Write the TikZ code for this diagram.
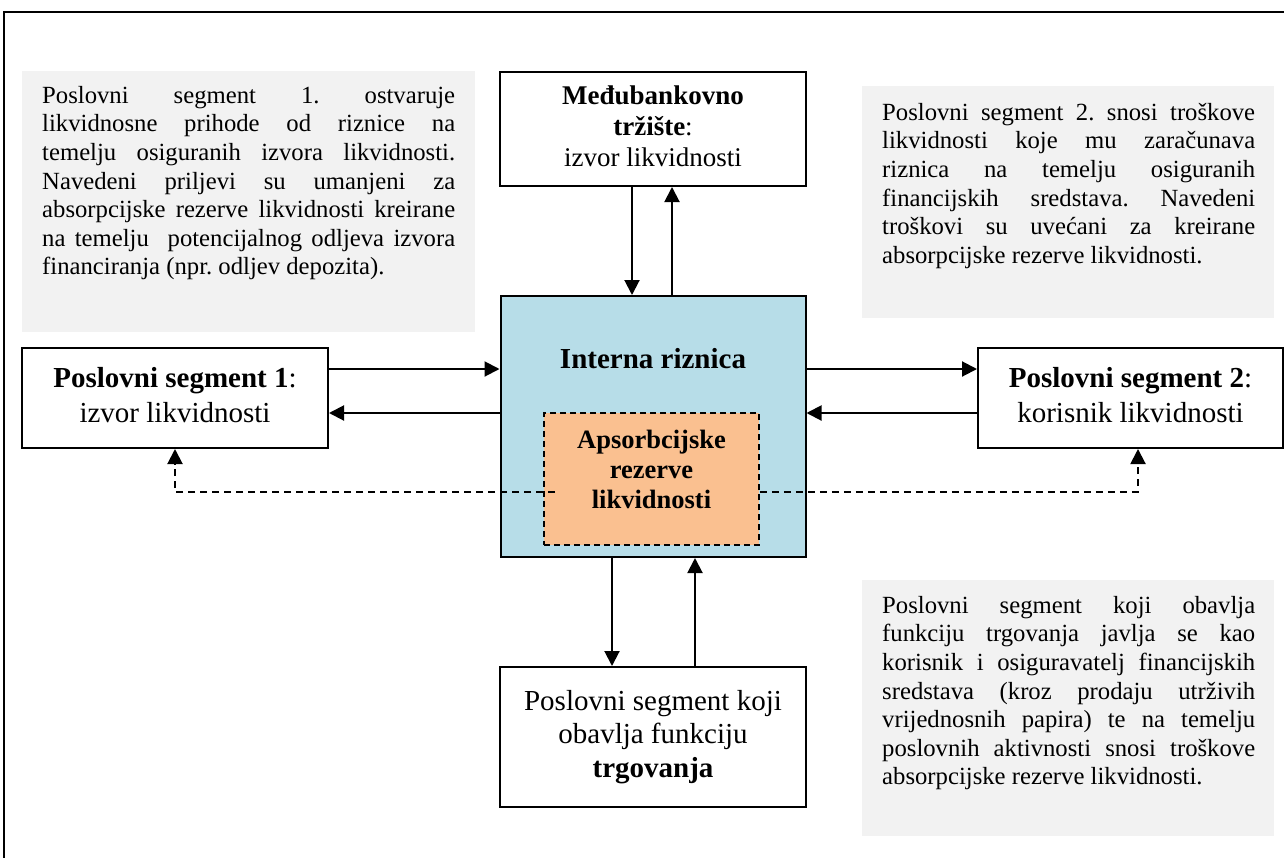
\documentclass[tikz,border=0pt]{standalone}
\usepackage{fontspec}
\setmainfont{Liberation Serif}
\usetikzlibrary{arrows.meta}
\definecolor{bluefill}{RGB}{183,221,232}
\definecolor{orangefill}{RGB}{250,192,144}
\definecolor{grayfill}{RGB}{242,242,242}
\frenchspacing
\begin{document}
\begin{tikzpicture}[x=1pt,y=-1pt,
  box/.style={draw, line width=2pt, fill=white, inner sep=0pt, align=center},
  flow/.style={line width=2pt, -{Triangle[length=15pt,width=15pt]}},
  dflow/.style={flow, dash pattern=on 7pt off 5pt},
  graybox/.style={fill=grayfill, draw=none, inner sep=0pt, anchor=north west},
  graytxt/.style={inner sep=0pt, anchor=north west, align=justify,
    font=\fontsize{24.7}{28.6}\selectfont},
  bigfont/.style={font=\fontsize{29}{35}\selectfont}
]
\useasboundingbox (0,0) rectangle (1284,857);
\fill[white] (0,0) rectangle (1284,857);
% outer frame
\draw[line width=2pt] (4,870) -- (4,12) -- (1300,12);

% gray text panels
\node[graybox, minimum width=453pt, minimum height=261pt] (g1) at (22,71) {};
\node[graytxt, text width=413pt] (g1t) at (42,83) {\tolerance=10000\relax\strut Poslovni segment 1. ostvaruje\linebreak
likvidnosne prihode od riznice na\linebreak
temelju osiguranih izvora likvidnosti.\linebreak
Navedeni priljevi su umanjeni za\linebreak
absorpcijske rezerve likvidnosti kreirane\linebreak
na temelju~ potencijalnog odljeva izvora\linebreak
financiranja (npr. odljev depozita).};

\node[graybox, minimum width=412pt, minimum height=232pt] (g2) at (862,86) {};
\node[graytxt, text width=373pt] (g2t) at (882,100) {\tolerance=10000\relax\strut Poslovni segment 2. snosi troškove\linebreak
likvidnosti koje mu zaračunava\linebreak
riznica na temelju osiguranih\linebreak
financijskih sredstava. Navedeni\linebreak
troškovi su uvećani za kreirane\linebreak
absorpcijske rezerve likvidnosti.};

\node[graybox, minimum width=412pt, minimum height=256pt] (g3) at (862,580) {};
\node[graytxt, text width=373pt] (g3t) at (882,593) {\tolerance=10000\relax\strut Poslovni segment koji obavlja\linebreak
funkciju trgovanja javlja se kao\linebreak
korisnik i osiguravatelj financijskih\linebreak
sredstava (kroz prodaju utrživih\linebreak
vrijednosnih papira) te na temelju\linebreak
poslovnih aktivnosti snosi troškove\linebreak
absorpcijske rezerve likvidnosti.};

% boxes
\node[box, minimum width=306pt, minimum height=114pt, font=\fontsize{27}{31}\selectfont] (mb) at (653,129)
  {\strut\textbf{Međubankovno}\\\textbf{tržište}:\\izvor likvidnosti\strut};
\node[box, fill=bluefill, minimum width=305pt, minimum height=261pt] (ir) at (653,426.5) {};
\node[inner sep=0pt, anchor=north, font=\bfseries\fontsize{29}{33}\selectfont] (irl) at (653,344.9) {\strut Interna riznica};
\node[draw, line width=1.6pt, dash pattern=on 6pt off 4pt, fill=orangefill, minimum width=215pt, minimum height=132pt] (ar) at (651.5,479) {};
\node[inner sep=0pt, anchor=north, align=center, font=\bfseries\fontsize{26.5}{30}\selectfont] (art) at (651.5,427) {\strut Apsorbcijske\\rezerve\\likvidnosti};

\node[box, bigfont, minimum width=306pt, minimum height=100pt] (ps1) at (175,398)
  {\strut\textbf{Poslovni segment 1}:\\izvor likvidnosti\strut};
\node[box, bigfont, minimum width=305pt, minimum height=100pt] (ps2) at (1130.5,398)
  {\strut\textbf{Poslovni segment 2}:\\korisnik likvidnosti\strut};
\node[box, font=\fontsize{29}{33.5}\selectfont, minimum width=306pt, minimum height=140pt] (tr) at (653,737)
  {\strut Poslovni segment koji\\obavlja funkciju\\\textbf{trgovanja}\strut};

% helper coordinates
\coordinate (yA) at (0,369);
\coordinate (yB) at (0,413);
\coordinate (yD) at (0,492);
\coordinate (xA) at (632,0);
\coordinate (xB) at (672,0);
\coordinate (xC) at (612,0);
\coordinate (xD) at (695,0);
\coordinate (xR) at (1138,0);
\coordinate (dL) at (555,492);

% connectors
\draw[flow] (mb.south -| xA) -- (ir.north -| xA);
\draw[flow] (ir.north -| xB) -- (mb.south -| xB);
\draw[flow] (ps1.east |- yA) -- (ir.west |- yA);
\draw[flow] (ir.west |- yB) -- (ps1.east |- yB);
\draw[flow] (ir.east |- yA) -- (ps2.west |- yA);
\draw[flow] (ps2.west |- yB) -- (ir.east |- yB);
\draw[flow] (ir.south -| xC) -- (tr.north -| xC);
\draw[flow] (tr.north -| xD) -- (ir.south -| xD);
\draw[dflow] (dL) -| (ps1.south);
\draw[dflow] (ar.east |- yD) -| (ps2.south -| xR);
\end{tikzpicture}
\end{document}
